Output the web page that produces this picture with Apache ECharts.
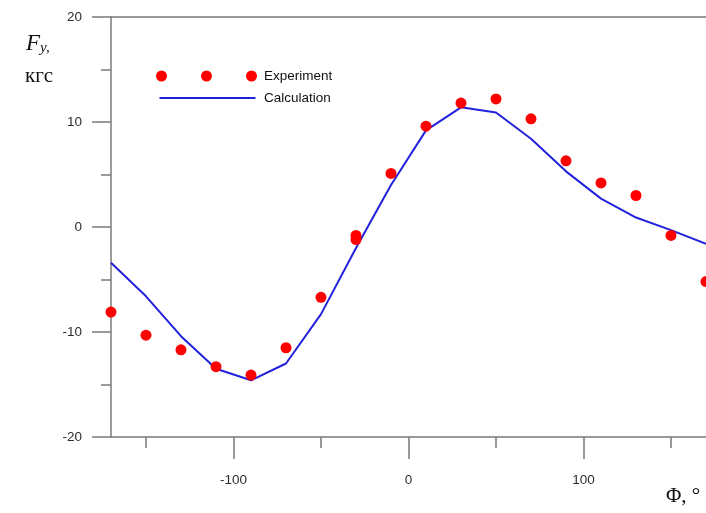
<!DOCTYPE html>
<html>
<head>
<meta charset="utf-8">
<script src="https://cdn.jsdelivr.net/npm/echarts@6/dist/echarts.min.js"></script>
<style>
  html, body { margin: 0; padding: 0; background: #fff; }
  #chart { width: 706px; height: 513px; }
</style>
</head>
<body>
<div id="chart"></div>
<script>
// Lateral force Fy versus angle Φ: measured points and calculated curve
const expAngles = [-170, -150, -130, -110, -90, -70, -50, -30, -30, -10, 10, 30, 50, 70, 90, 110, 130, 150, 170];
const expForce  = [-8.1, -10.3, -11.7, -13.3, -14.1, -11.5, -6.7, -0.8, -1.2, 5.1, 9.6, 11.8, 12.2, 10.3, 6.3, 4.2, 3.0, -0.8, -5.2];

const calcAngles = [-170, -150, -130, -110, -90, -70, -50, -30, -10, 10, 30, 50, 70, 90, 110, 130, 150, 170];
const calcForce  = [-3.4, -6.6, -10.4, -13.5, -14.6, -13.0, -8.3, -2.0, 4.0, 9.2, 11.4, 10.9, 8.4, 5.3, 2.7, 0.9, -0.3, -1.6];

const xMajorTicks = [-100, 0, 100];
const xMinorTicks = [-150, -50, 50, 150];
const yTicks = [-20, -10, 0, 10, 20];

const axisGray = '#7a7a7a';
const labelStyle = { color: '#2e2e2e', fontSize: 13.5, fontFamily: 'Liberation Sans, Arial, sans-serif' };

// legend glyphs: three dots, and a thin line inside an 101x11 box
const dotsIcon = 'path://M0,5.5a5.5,5.5 0 1,0 11,0a5.5,5.5 0 1,0 -11,0Z' +
                 'M45,5.5a5.5,5.5 0 1,0 11,0a5.5,5.5 0 1,0 -11,0Z' +
                 'M90,5.5a5.5,5.5 0 1,0 11,0a5.5,5.5 0 1,0 -11,0Z';
const lineIcon = 'path://M0,0H0.01V11H0Z M2,4.5H98V6.5H2Z';

const chart = echarts.init(document.getElementById('chart'), null, { renderer: 'canvas' });

chart.setOption({
  animation: false,
  backgroundColor: '#fff',
  grid: { left: 111, right: -5, top: 17, bottom: 76, containLabel: false },
  legend: {
    orient: 'vertical',
    left: 151,
    top: 64,
    itemWidth: 101,
    itemHeight: 11,
    itemGap: 8,
    textStyle: { color: '#111', fontSize: 13.5, fontFamily: 'Liberation Sans, Arial, sans-serif', padding: [0, 0, 0, 2] },
    data: [
      { name: 'Experiment', icon: dotsIcon },
      { name: 'Calculation', icon: lineIcon }
    ]
  },
  xAxis: [
    {
      type: 'value', position: 'bottom', min: -170, max: 170,
      axisLine: { show: true, onZero: false, lineStyle: { color: axisGray, width: 1.5 } },
      axisTick: { show: true, length: 22, customValues: xMajorTicks, lineStyle: { color: axisGray, width: 1.5 } },
      axisLabel: Object.assign({ customValues: xMajorTicks, margin: 36 }, labelStyle),
      splitLine: { show: false }
    },
    {
      type: 'value', position: 'bottom', min: -170, max: 170,
      axisLine: { show: false, onZero: false },
      axisTick: { show: true, length: 11, customValues: xMinorTicks, lineStyle: { color: axisGray, width: 1.5 } },
      axisLabel: { show: false },
      splitLine: { show: false }
    },
    {
      type: 'value', position: 'top', min: -170, max: 170,
      axisLine: { show: true, onZero: false, lineStyle: { color: axisGray, width: 1.5 } },
      axisTick: { show: false },
      axisLabel: { show: false },
      splitLine: { show: false }
    }
  ],
  yAxis: {
    type: 'value', min: -20, max: 20, interval: 10, position: 'left',
    axisLine: { show: true, onZero: false, lineStyle: { color: axisGray, width: 1.5 } },
    axisTick: { show: true, length: 19, lineStyle: { color: axisGray, width: 1.5 } },
    minorTick: { show: true, splitNumber: 2, length: 10, lineStyle: { color: axisGray, width: 1.5 } },
    axisLabel: Object.assign({ margin: 29, customValues: yTicks }, labelStyle),
    splitLine: { show: false }
  },
  series: [
    {
      name: 'Calculation',
      type: 'line',
      xAxisIndex: 0,
      data: calcAngles.map((a, i) => [a, calcForce[i]]),
      symbol: 'none',
      lineStyle: { color: '#2222dd', width: 2 },
      itemStyle: { color: '#2222dd' },
      clip: false,
      z: 2
    },
    {
      name: 'Experiment',
      type: 'scatter',
      xAxisIndex: 0,
      data: expAngles.map((a, i) => [a, expForce[i]]),
      symbol: 'circle',
      symbolSize: 11,
      itemStyle: { color: '#ff0000', opacity: 1 },
      clip: false,
      z: 3
    }
  ],
  graphic: [
    {
      type: 'text', left: 26, top: 32,
      style: {
        text: '{f|F}{s|y,}',
        rich: {
          f: { fontFamily: 'Liberation Serif, Times New Roman, serif', fontStyle: 'italic', fontSize: 23, fill: '#111' },
          s: { fontFamily: 'Liberation Serif, Times New Roman, serif', fontStyle: 'italic', fontSize: 15, fill: '#111', padding: [10, 0, 0, 0] }
        }
      }
    },
    {
      type: 'text', left: 25, top: 66,
      style: { text: 'кгс', fontFamily: 'Liberation Serif, Times New Roman, serif', fontSize: 21, fill: '#111' }
    },
    {
      type: 'text', left: 666, top: 486,
      style: { text: 'Φ, °', fontFamily: 'Liberation Serif, Times New Roman, serif', fontSize: 21, fill: '#111' }
    }
  ]
});
</script>
</body>
</html>
